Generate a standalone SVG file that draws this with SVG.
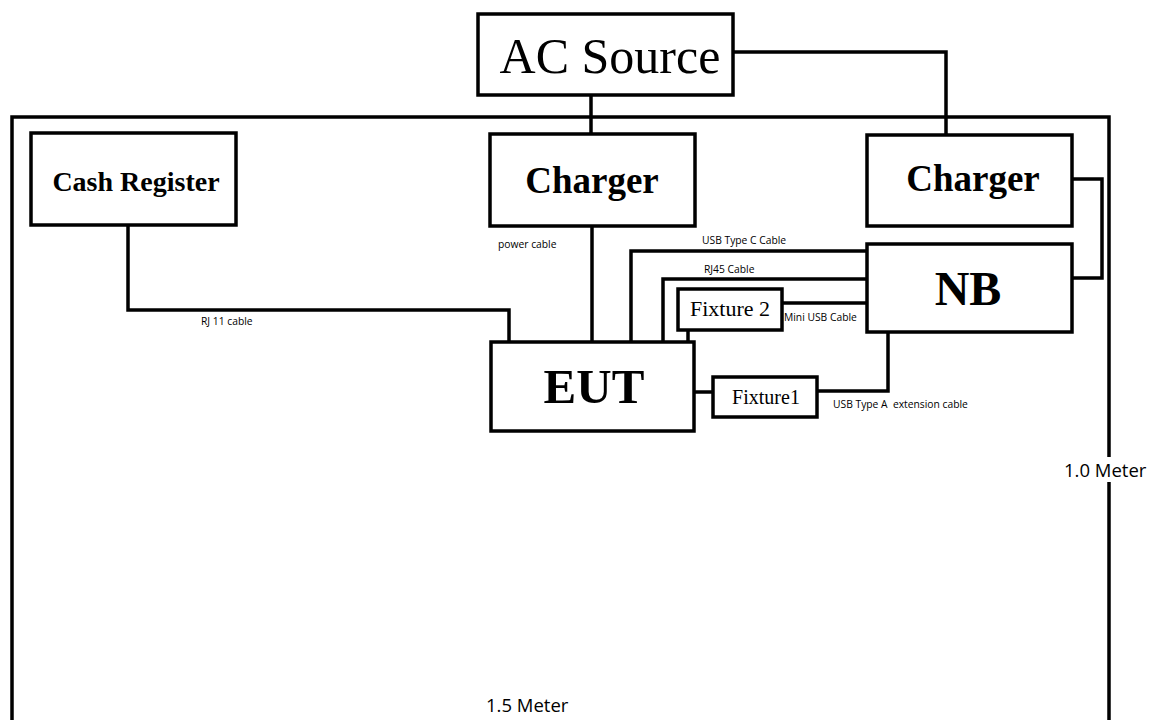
<svg xmlns="http://www.w3.org/2000/svg" width="1150" height="720" viewBox="0 0 1150 720">
<style>
.box{fill:#fff;stroke:#000;stroke-width:3.5}
.ln{fill:none;stroke:#000;stroke-width:3.5}
.big{font-family:"Liberation Serif",serif;fill:#000;text-anchor:middle}
.b{font-weight:bold}
.sm{font-family:"Open Sans","Liberation Sans",sans-serif;font-size:10.3px;fill:#000}
.m{font-family:"Open Sans","Liberation Sans",sans-serif;font-size:18.5px;fill:#000}
</style>
<rect width="1150" height="720" fill="#fff"/>
<g id="area">
<path class="ln" d="M12,720 V117 H1109 V457 M1109,482 V720"/>
</g>
<g id="connectors">
<path class="ln" d="M591,95 V134"/>
<path class="ln" d="M733,52 H946 V135"/>
<path class="ln" d="M1072,179 H1102 V278 H1072"/>
<path class="ln" d="M128,225 V310 H509 V342"/>
<path class="ln" d="M592,226 V342"/>
<path class="ln" d="M631,342 V251 H867"/>
<path class="ln" d="M663,342 V279 H867"/>
<path class="ln" d="M782,303 H867"/>
<path class="ln" d="M688,330 V342"/>
<path class="ln" d="M694,392 H713"/>
<path class="ln" d="M817,391 H888 V332"/>
<text class="sm" x="498" y="248">power cable</text>
<text class="sm" x="702" y="244">USB Type C Cable</text>
<text class="sm" x="704" y="273">RJ45 Cable</text>
<text class="sm" x="784" y="321">Mini USB Cable</text>
<text class="sm" x="833" y="408" xml:space="preserve">USB Type A  extension cable</text>
<text class="sm" x="201" y="325">RJ 11 cable</text>
<text class="m" x="1064" y="477">1.0 Meter</text>
<text class="m" x="486" y="712">1.5 Meter</text>
</g>
<g id="ac-source">
<rect class="box" x="478" y="14" width="255" height="81"/>
<text class="big" x="610" y="73" font-size="50">AC Source</text>
</g>
<g id="cash-register">
<rect class="box" x="31" y="133" width="205" height="92"/>
<text class="big b" x="136" y="191" font-size="28">Cash Register</text>
</g>
<g id="charger1">
<rect class="box" x="490" y="134" width="205" height="92"/>
<text class="big b" x="592" y="193" font-size="37">Charger</text>
</g>
<g id="charger2">
<rect class="box" x="867" y="135" width="205" height="91"/>
<text class="big b" x="973" y="191" font-size="37">Charger</text>
</g>
<g id="nb">
<rect class="box" x="867" y="244" width="205" height="88"/>
<text class="big b" x="968" y="305" font-size="48">NB</text>
</g>
<g id="fixture2">
<rect class="box" x="678" y="289" width="104" height="41"/>
<text class="big" x="730" y="316" font-size="22">Fixture 2</text>
</g>
<g id="eut">
<rect class="box" x="491" y="342" width="203" height="89"/>
<text class="big b" x="594" y="403" font-size="49">EUT</text>
</g>
<g id="fixture1">
<rect class="box" x="713" y="377" width="104" height="40"/>
<text class="big" x="766" y="404" font-size="20">Fixture1</text>
</g>
</svg>
